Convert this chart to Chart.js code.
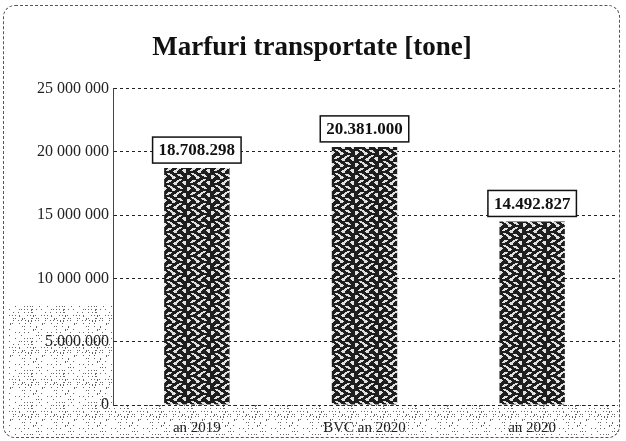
<!DOCTYPE html>
<html>
<head>
<meta charset="utf-8">
<script src="https://cdn.jsdelivr.net/npm/chart.js@4.4.1/dist/chart.umd.min.js"></script>
<style>
  html, body { margin: 0; padding: 0; background: #fff; }
  #wrap { position: relative; width: 626px; height: 441px; }
  #frame { position: absolute; left: 3px; top: 5px; width: 617px; height: 433px;
           border: 1px dashed #555; border-radius: 12px; box-sizing: border-box; pointer-events: none; }
  canvas { position: absolute; left: 0; top: 0; }
</style>
</head>
<body>
<div id="wrap">
  <canvas id="c" width="626" height="441"></canvas>
  <div id="frame"></div>
</div>
<script>
// Goods transported, in tonnes
const categories = ['an 2019', 'BVC an 2020', 'an 2020'];
const tonnes = [18708298, 20381000, 14492827];
const tickValues = [0, 5000000, 10000000, 15000000, 20000000, 25000000];
const tickLabels = ['0', '5.000.000', '10 000 000', '15 000 000', '20 000 000', '25 000 000'];

const SERIF = '"Liberation Serif", "DejaVu Serif", serif';

// Dense dark wavy texture used for the bars
function makeBarPattern() {
  const s = 24;
  const cv = document.createElement('canvas');
  cv.width = s; cv.height = s;
  const g = cv.getContext('2d');
  const img = g.createImageData(s, s);
  for (let y = 0; y < s; y++) {
    for (let x = 0; x < s; x++) {
      const a = (x / s) * Math.PI * 2, b = (y / s) * Math.PI * 2;
      const v = Math.sin(a * 3 + 2.2 * Math.sin(b * 2)) + 0.8 * Math.sin(b * 4 + 1.5 * Math.cos(a * 2));
      const on = v > 0.5;
      const c = on ? 225 : 30;
      const i = (y * s + x) * 4;
      img.data[i] = img.data[i + 1] = img.data[i + 2] = c;
      img.data[i + 3] = 255;
    }
  }
  g.putImageData(img, 0, 0);
  return g.createPattern(cv, 'repeat');
}

// Sparse grey stipple for the lower margins
function makeStipple() {
  const s = 32;
  const cv = document.createElement('canvas');
  cv.width = s; cv.height = s;
  const g = cv.getContext('2d');
  g.fillStyle = '#666';
  for (let y = 0; y < s; y += 3) {
    for (let x = 0; x < s; x += 3) {
      const h = Math.abs(Math.sin(x * 12.9898 + y * 78.233) * 43758.5453) % 1;
      if (h > 0.5) g.fillRect(x + (h > 0.8 ? 1 : 0), y, 1, h > 0.9 ? 2 : 1);
    }
  }
  return g.createPattern(cv, 'repeat');
}

const fmt = v => String(v).replace(/\B(?=(\d{3})+(?!\d))/g, '.');

const stipplePlugin = {
  id: 'stipple',
  beforeDraw(chart) {
    const { ctx, chartArea: a } = chart;
    ctx.save();
    ctx.fillStyle = makeStipple();
    ctx.fillRect(8, 305, a.left - 8, a.bottom - 305);
    ctx.fillRect(8, a.bottom, 610, chart.height - a.bottom - 5);
    ctx.fillRect(a.right + 2, 350, 618 - a.right - 2, a.bottom - 350);
    ctx.restore();
  }
};

const valueBoxPlugin = {
  id: 'valueBoxes',
  afterDatasetsDraw(chart) {
    const { ctx } = chart;
    const meta = chart.getDatasetMeta(0);
    ctx.save();
    ctx.font = 'bold 17px ' + SERIF;
    ctx.textAlign = 'center';
    ctx.textBaseline = 'middle';
    meta.data.forEach((bar, i) => {
      const txt = fmt(tonnes[i]);
      const w = ctx.measureText(txt).width + 12;
      const h = 26;
      const x = bar.x - w / 2;
      const y = bar.y - h - 5;
      ctx.fillStyle = '#fff';
      ctx.fillRect(x, y, w, h);
      ctx.strokeStyle = '#111';
      ctx.lineWidth = 1.5;
      ctx.strokeRect(x, y, w, h);
      ctx.fillStyle = '#111';
      ctx.fillText(txt, bar.x, y + h / 2 + 1);
    });
    ctx.restore();
  }
};

new Chart(document.getElementById('c'), {
  type: 'bar',
  data: {
    labels: categories,
    datasets: [{
      data: tonnes,
      backgroundColor: makeBarPattern(),
      borderWidth: 0,
      barPercentage: 0.39,
      categoryPercentage: 1
    }]
  },
  options: {
    responsive: false,
    animation: false,
    layout: { padding: { left: 8, right: 10, top: 4, bottom: 4 } },
    plugins: {
      legend: { display: false },
      tooltip: { enabled: false },
      title: {
        display: true,
        text: 'Marfuri transportate [tone]',
        color: '#111',
        font: { family: SERIF, size: 27, weight: 'bold' },
        padding: { top: 28, bottom: 24 }
      }
    },
    scales: {
      x: {
        grid: { display: false, drawTicks: false },
        border: { display: false },
        afterFit(scale) { scale.height = 32; },
        ticks: { color: '#222', font: { family: SERIF, size: 15 }, padding: 14 }
      },
      y: {
        min: 0,
        max: 25000000,
        afterBuildTicks(scale) { scale.ticks = tickValues.map(v => ({ value: v })); },
        afterFit(scale) { scale.width = 105; },
        grid: { color: '#222', lineWidth: 1, drawTicks: false },
        border: { display: true, color: '#444', dash: [3, 3] },
        ticks: {
          color: '#222',
          padding: 4,
          font: { family: SERIF, size: 16 },
          callback: v => tickLabels[tickValues.indexOf(v)]
        }
      }
    }
  },
  plugins: [stipplePlugin, valueBoxPlugin]
});
</script>
</body>
</html>
